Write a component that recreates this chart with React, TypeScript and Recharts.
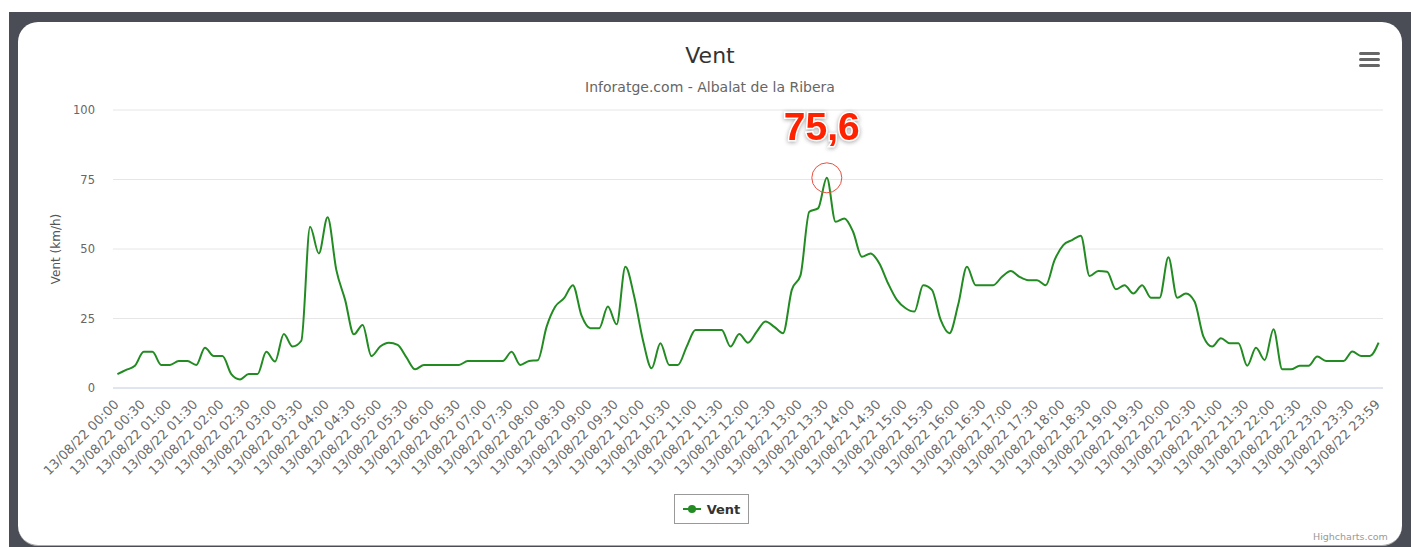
import { LineChart, Line, XAxis, YAxis, CartesianGrid, ReferenceDot } from 'recharts'

// wind speed (km/h), one reading every 10 minutes, last one at 23:59
const wind0006 = [
  5, 6.5, 8, 13, 13, 8.3, 8.3, 9.7, 9.7, 8.3, 14.5, 11.5, 11.5, 5, 3.1, 5, 5, 13,
  9.5, 19.4, 14.9, 17, 58, 48.4, 61.4, 42.4, 31.7, 19.3, 22.7, 11.5, 14.9, 16.3, 15.5, 11, 6.7, 8.3,
]
const wind0612 = [
  8.3, 8.3, 8.3, 8.3, 9.7, 9.7, 9.7, 9.7, 9.7, 13, 8.3, 9.7, 10, 22, 29.3, 32.3, 37, 26,
  21.5, 21.5, 29.3, 22.9, 43.6, 33, 17.3, 7.1, 16.1, 8.3, 8.3, 14.9, 20.9, 20.9, 20.9, 20.9, 14.9, 19.4,
]
const wind1218 = [
  16.3, 20.3, 23.9, 22, 19.7, 35.3, 40.6, 63.4, 64.6, 75.6, 59.8, 61, 56.2, 47.2, 48.4, 44.8, 37.6, 31.7,
  28.7, 27.5, 37, 35.3, 24.5, 19.7, 30, 43.6, 37, 37, 37, 40, 42.1, 40, 38.8, 38.8, 37, 46,
]
const wind1824 = [
  51.4, 53.2, 54.8, 40.3, 42.1, 41.8, 35.5, 37, 34, 37, 32.5, 32.5, 47, 32.5, 34, 31, 18.5, 14.9,
  17.9, 16.1, 16.1, 8, 14.5, 10.1, 21.1, 6.7, 6.7, 8, 8, 11.3, 9.7, 9.7, 9.7, 13.1, 11.5, 11.5, 16.3,
]
const yTicks = [0, 25, 50, 75, 100]
const day = '13/08/22'

const pad = (n: number) => String(n).padStart(2, '0')
const times = Array.from({ length: 144 }, (_, i) => `${day} ${pad(Math.floor(i / 6))}:${pad((i % 6) * 10)}`)
times.push(`${day} 23:59`)

const values = [...wind0006, ...wind0612, ...wind1218, ...wind1824]
const data = times.map((t, i) => ({ time: t, vent: values[i] }))

const peak = Math.max(...values)
const peakIdx = values.indexOf(peak)

const font = '"DejaVu Sans", Verdana, sans-serif'
const green = '#228b22'

function TimeTick({ x, y, payload }: any) {
  const ax = x - 1
  const ay = y + 6
  return (
    <text
      x={ax}
      y={ay}
      transform={`rotate(-45 ${ax} ${ay})`}
      textAnchor="end"
      dominantBaseline="central"
      fontSize={13}
      fontFamily={font}
      fill="#6a6a6a"
    >
      {payload.value}
    </text>
  )
}

function PeakLabel({ x, y, index }: any) {
  if (index !== peakIdx) return null
  return (
    <text
      x={x - 5}
      y={y - 38}
      textAnchor="middle"
      fontSize={39}
      fontWeight="bold"
      fontFamily='"Liberation Sans", Arial, sans-serif'
      fill="#ff2200"
      stroke="#fff"
      strokeWidth={3}
      paintOrder="stroke"
      style={{ filter: 'drop-shadow(0 1px 2px rgba(0,0,0,0.35))' }}
    >
      {String(peak).replace('.', ',')}
    </text>
  )
}

export default function App() {
  return (
    <div style={{ position: 'fixed', left: 0, top: 0, width: 1411, height: 547, background: '#fff', fontFamily: font }}>
      <div style={{ position: 'absolute', left: 9, top: 12, width: 1402, height: 535, background: '#4a4d55' }} />
      <div
        style={{
          position: 'absolute',
          left: 18,
          top: 22,
          width: 1384,
          height: 523,
          background: '#fff',
          borderRadius: 20,
          borderBottom: '1px solid #aaa',
        }}
      />
      <div style={{ position: 'absolute', left: 18, width: 1384, top: 43, textAlign: 'center', fontSize: 22, color: '#333' }}>
        Vent
      </div>
      <div style={{ position: 'absolute', left: 18, width: 1384, top: 79, textAlign: 'center', fontSize: 14, color: '#666' }}>
        Inforatge.com - Albalat de la Ribera
      </div>
      <svg style={{ position: 'absolute', left: 1359, top: 52 }} width={21} height={16}>
        <rect x={0} y={0} width={21} height={3} rx={1.5} fill="#666" />
        <rect x={0} y={6} width={21} height={3} rx={1.5} fill="#666" />
        <rect x={0} y={12} width={21} height={3} rx={1.5} fill="#666" />
      </svg>
      <div style={{ position: 'absolute', left: 0, top: 0 }}>
        <LineChart width={1411} height={547} data={data} margin={{ top: 110, right: 28, bottom: 59, left: 0 }}>
          <CartesianGrid horizontal vertical={false} stroke="#e6e6e6" />
          <XAxis
            dataKey="time"
            interval={2}
            height={100}
            padding={{ left: 4.4, right: 4.4 }}
            tick={<TimeTick />}
            tickLine={false}
            axisLine={{ stroke: '#ccd6eb' }}
          />
          <YAxis
            width={113}
            domain={[0, 100]}
            ticks={yTicks}
            tickLine={false}
            axisLine={false}
            tickMargin={12}
            tick={{ fontSize: 11.5, fill: '#666', fontFamily: font }}
            label={{
              value: 'Vent (km/h)',
              angle: -90,
              position: 'insideLeft',
              offset: 56,
              style: { textAnchor: 'middle', fontSize: 12, fill: '#555', fontFamily: font },
            }}
          />
          <ReferenceDot x={times[peakIdx]} y={peak} r={15} fill="none" stroke="#e8503f" strokeWidth={1} />
          <Line
            type="monotone"
            dataKey="vent"
            stroke={green}
            strokeWidth={2}
            dot={false}
            activeDot={false}
            isAnimationActive={false}
            label={<PeakLabel />}
          />
        </LineChart>
      </div>
      <div
        style={{
          position: 'absolute',
          left: 674,
          top: 494,
          width: 73,
          height: 28,
          border: '1px solid #999',
          display: 'flex',
          alignItems: 'center',
          justifyContent: 'center',
          gap: 6,
        }}
      >
        <svg width={18} height={10}>
          <line x1={0} y1={5} x2={18} y2={5} stroke={green} strokeWidth={2} />
          <circle cx={9} cy={5} r={4} fill={green} />
        </svg>
        <span style={{ fontSize: 13, fontWeight: 'bold', color: '#333' }}>Vent</span>
      </div>
      <div style={{ position: 'absolute', left: 1313, top: 531, fontSize: 9.5, color: '#999' }}>Highcharts.com</div>
    </div>
  )
}
